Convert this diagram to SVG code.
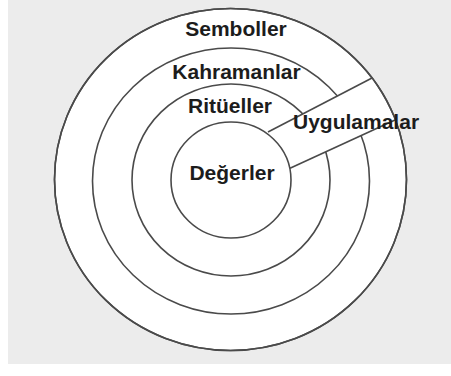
<svg xmlns="http://www.w3.org/2000/svg" width="451" height="376" viewBox="0 0 451 376">
<style>
.ring{fill:#ffffff;stroke:#4a4a4a;stroke-width:1.6}
.edge{fill:none;stroke:#4a4a4a;stroke-width:1.6}
.lbl{font-family:"Liberation Sans",Arial,sans-serif;font-weight:bold;font-size:21px;fill:#1c1c1c}
</style>
<rect x="0" y="0" width="451" height="376" fill="#ffffff"/>
<rect x="8" y="0" width="443" height="364" fill="#ececec"/>
<g id="semboller">
<ellipse class="ring" cx="230.5" cy="179.5" rx="176" ry="171"/>
</g>
<g id="kahramanlar">
<ellipse class="ring" cx="231" cy="181" rx="138.5" ry="133"/>
</g>
<g id="ritueller">
<ellipse class="ring" cx="231" cy="180" rx="99" ry="96"/>
</g>
<g id="uygulamalar">
<polygon points="268,132 372,78 395,120 290,168.3" fill="#ffffff"/>
</g>
<ellipse class="edge" cx="230.5" cy="179.5" rx="176" ry="171"/>
<g id="degerler">
<ellipse class="ring" cx="231" cy="180" rx="60" ry="58"/>
</g>
<g id="connectors">
<line class="edge" x1="268" y1="132" x2="372" y2="78"/>
<line class="edge" x1="290" y1="168.3" x2="395" y2="120"/>
</g>
<g id="labels">
<text class="lbl" x="236" y="36" text-anchor="middle">Semboller</text>
<text class="lbl" x="236.5" y="79" text-anchor="middle">Kahramanlar</text>
<text class="lbl" x="230" y="112.5" text-anchor="middle">Ritüeller</text>
<text class="lbl" x="293" y="129">Uygulamalar</text>
<text class="lbl" x="232" y="180" text-anchor="middle">Değerler</text>
</g>
</svg>
